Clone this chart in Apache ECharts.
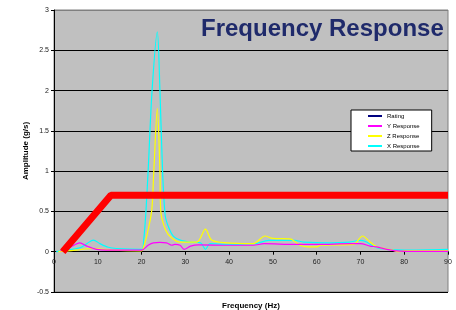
<!DOCTYPE html>
<html>
<head>
<meta charset="utf-8">
<script src="https://cdn.jsdelivr.net/npm/echarts@6/dist/echarts.min.js"></script>
<style>
html, body { margin: 0; padding: 0; background: #fff; }
#main { width: 456px; height: 310px; }
</style>
</head>
<body>
<div id="main"></div>
<script>
var dom = document.getElementById("main");
var myChart = echarts.init(dom);

// [frequency (Hz), amplitude]
var rating = [[2, 0], [13, 0.7], [90, 0.7]];
var xResponse = [[0.5, 0], [3, 0.02], [6, 0.05], [7.5, 0.1], [9, 0.145], [10.5, 0.1], [12.4, 0.055], [14.3, 0.04], [20, 0.03],
    [20.5, 0.15], [21, 0.5], [21.5, 1.0], [22.4, 2.0], [23.6, 2.73], [24.2, 2.0], [24.8, 1.0], [25.4, 0.45], [26.2, 0.3],
    [27.3, 0.19], [29, 0.14], [31, 0.12], [33.5, 0.11], [34.6, 0.03], [35.6, 0.1], [40, 0.09], [46, 0.1], [49, 0.14],
    [55, 0.14], [57, 0.12], [63, 0.11], [67.5, 0.12], [70, 0.14], [71, 0.13], [73.7, 0.05], [76, 0.03], [80, 0.02], [90, 0.03]];
var yResponse = [[1.5, 0.01], [3.5, 0.05], [5.9, 0.11], [7.5, 0.07], [9.7, 0.03], [12, 0.02], [20, 0.02], [21.5, 0.08],
    [22.7, 0.11], [24.2, 0.115], [25.7, 0.11], [26.9, 0.08], [27.6, 0.09], [28.8, 0.08], [29.7, 0.03], [31.2, 0.07],
    [33, 0.085], [40, 0.08], [45.5, 0.08], [48, 0.1], [55, 0.09], [60, 0.09], [68, 0.1], [70, 0.1], [72.2, 0.07],
    [73.7, 0.06], [76, 0.03], [78.3, 0.01], [82, 0.005], [90, 0.005]];
var zResponse = [[1, 0], [5, 0.02], [9, 0.04], [13, 0.02], [20, 0.01], [20.3, 0.03], [21.2, 0.2], [22.3, 0.5], [22.8, 1.0],
    [23.6, 1.78], [24.2, 1.0], [24.4, 0.5], [25.5, 0.27], [26.9, 0.17], [28.8, 0.12], [32.6, 0.12], [34.6, 0.28], [36, 0.145],
    [39.3, 0.11], [45.5, 0.1], [48.2, 0.195], [50, 0.165], [53.9, 0.16], [56.2, 0.08], [58, 0.06], [60.1, 0.06],
    [60.8, 0.08], [68.4, 0.09], [70.5, 0.195], [72, 0.13], [73.7, 0.06], [77.4, 0.02], [78.6, 0], [80, 0.01], [90, 0.01]];
var legendNames = ['Rating', 'Y Response', 'Z Response', 'X Response'];
var legendColors = ['#000080', '#ff00ff', '#ffff00', '#00ffff'];

var font = 'Liberation Sans, Arial, sans-serif';
var yMin = -0.5, yMax = 3;
var plotTop = 10, plotBottom = 18, chartH = 310;
// shift the x axis up so it sits on amplitude 0
var zeroOffset = -(0 - yMin) / (yMax - yMin) * (chartH - plotTop - plotBottom);

function line(name, data, color, width, z) {
    return {
        name: name,
        type: 'line',
        data: data,
        symbol: 'none',
        smooth: width > 2 ? false : 0.3,
        z: z,
        lineStyle: { color: color, width: width },
        itemStyle: { color: color }
    };
}

option = {
    animation: false,
    title: {
        text: 'Frequency Response',
        left: 196,
        top: 12,
        textStyle: { fontFamily: font, fontSize: 24, fontWeight: 'bold', color: '#1f2a6b' }
    },
    legend: {
        orient: 'vertical',
        left: 351,
        top: 110,
        icon: 'rect',
        itemWidth: 14,
        itemHeight: 2,
        itemGap: 2,
        padding: [2, 12, 1, 17],
        backgroundColor: '#fff',
        borderColor: '#000',
        borderWidth: 1,
        borderRadius: 0,
        textStyle: { fontFamily: font, fontSize: 6, lineHeight: 8, color: '#000' },
        data: legendNames.map(function (n, i) {
            return { name: n, itemStyle: { color: legendColors[i] } };
        })
    },
    grid: {
        left: 54,
        right: 8,
        top: plotTop,
        bottom: plotBottom,
        outerBoundsMode: 'none',
        containLabel: false,
        show: true,
        backgroundColor: '#c0c0c0',
        borderColor: '#808080',
        borderWidth: 1
    },
    xAxis: {
        type: 'value',
        min: 0,
        max: 90,
        interval: 10,
        offset: zeroOffset,
        name: 'Frequency (Hz)',
        nameLocation: 'middle',
        nameGap: 50,
        nameTextStyle: { fontFamily: font, fontSize: 8, fontWeight: 'bold', color: '#000' },
        axisLine: { onZero: false, lineStyle: { color: '#000', width: 1 } },
        axisTick: { show: true, length: 3, lineStyle: { color: '#000' } },
        axisLabel: { fontFamily: font, fontSize: 7, color: '#222', margin: 7 },
        splitLine: { show: false }
    },
    yAxis: {
        type: 'value',
        min: yMin,
        max: yMax,
        interval: 0.5,
        name: 'Amplitude (g/s)',
        nameLocation: 'middle',
        nameGap: 24,
        nameMoveOverlap: false,
        nameTextStyle: { fontFamily: font, fontSize: 8, fontWeight: 'bold', color: '#000' },
        axisLine: { show: true, onZero: false, lineStyle: { color: '#000', width: 1 } },
        axisTick: { show: true, length: 3, lineStyle: { color: '#000' } },
        axisLabel: { fontFamily: font, fontSize: 7, color: '#222', margin: 5 },
        splitLine: {
            show: true,
            lineStyle: { color: ['#000', '#000', '#000', '#000', '#000', '#000', '#000', '#808080'], width: 1 }
        }
    },
    series: [
        line('X Response', xResponse, '#00ffff', 1.2, 2),
        line('Z Response', zResponse, '#ffff00', 1.2, 3),
        line('Y Response', yResponse, '#ff00ff', 1.2, 4),
        line('Rating', rating, '#ff0000', 7, 5)
    ]
};

if (option && typeof option === "object") {
    myChart.setOption(option, true);
}
</script>
</body>
</html>
